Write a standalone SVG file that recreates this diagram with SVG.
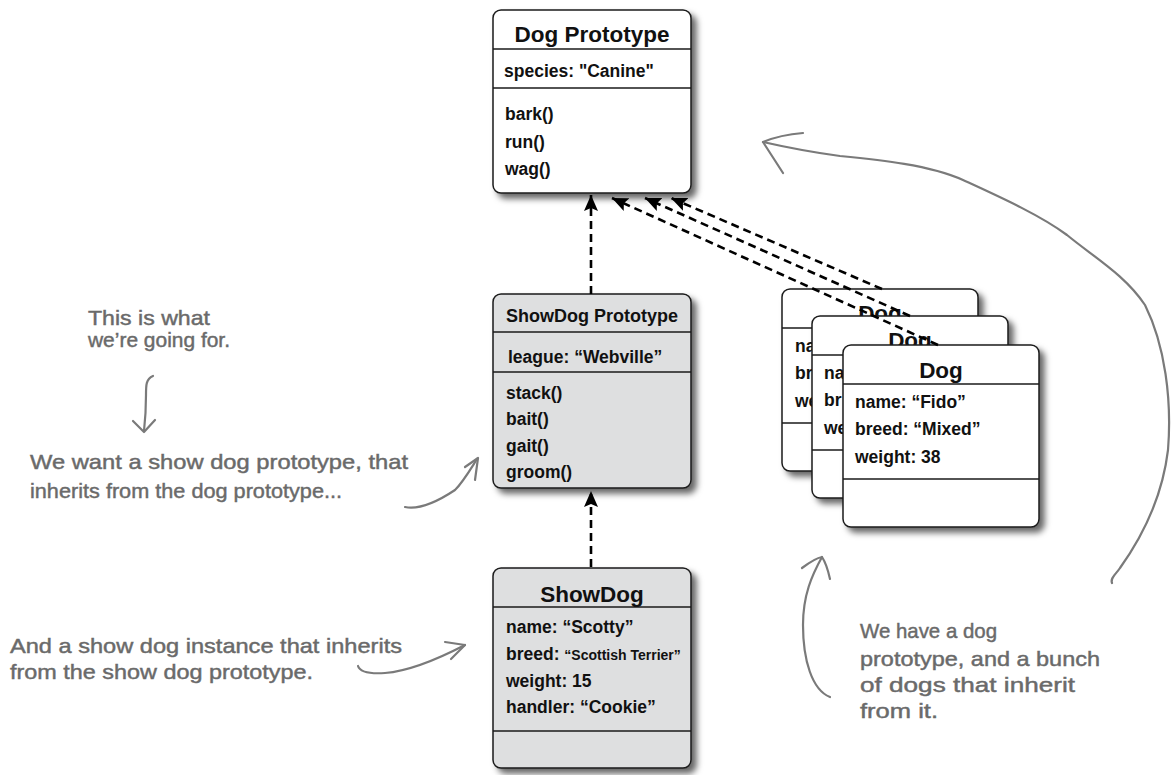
<svg xmlns="http://www.w3.org/2000/svg" width="1172" height="775" viewBox="0 0 1172 775">
<defs>
<filter id="sh" x="-10%" y="-10%" width="130%" height="130%">
<feDropShadow dx="5" dy="5" stdDeviation="3" flood-color="#000" flood-opacity="0.6"/>
</filter>
<marker id="ah" markerUnits="userSpaceOnUse" markerWidth="18" markerHeight="16" refX="16" refY="7" orient="auto">
<path d="M0,0 L16,7 L0,14 L3,7 z" fill="#000" stroke="none"/>
</marker>
</defs>
<style>
.box{fill:#fff;stroke:#1a1a1a;stroke-width:1.5;filter:url(#sh)}
.gbox{fill:#dedfe0;stroke:#1a1a1a;stroke-width:1.5;filter:url(#sh)}
.div{stroke:#1a1a1a;stroke-width:1.3}
.t{font-family:"Liberation Sans",Arial,sans-serif;font-weight:bold;fill:#111}
.title{font-size:22.5px;text-anchor:middle}
.a{font-size:17.5px}
.dash{fill:none;stroke:#000;stroke-width:2.6;stroke-dasharray:8 5;marker-end:url(#ah)}
.hand{fill:none;stroke:#7a7a7a;stroke-width:2.2;stroke-linecap:round;stroke-linejoin:round}
.note{font-family:"Liberation Sans",Arial,sans-serif;font-size:21px;fill:#6a6a6a;stroke:#6a6a6a;stroke-width:0.45}
</style>

<g id="dog-prototype">
<rect class="box" x="493" y="10" width="198" height="183" rx="8"/>
<line class="div" x1="493" y1="49" x2="691" y2="49"/>
<line class="div" x1="493" y1="88" x2="691" y2="88"/>
<text class="t title" x="592" y="42">Dog Prototype</text>
<text class="t a" x="504" y="77">species: "Canine"</text>
<text class="t a" x="505" y="120">bark()</text>
<text class="t a" x="505" y="148">run()</text>
<text class="t a" x="505" y="175">wag()</text>
</g>

<g id="showdog-prototype">
<rect class="gbox" x="493" y="294" width="198" height="194" rx="8"/>
<line class="div" x1="493" y1="332" x2="691" y2="332"/>
<line class="div" x1="493" y1="372" x2="691" y2="372"/>
<text class="t" x="592" y="322" font-size="18" text-anchor="middle">ShowDog Prototype</text>
<text class="t a" x="508" y="363">league: “Webville”</text>
<text class="t a" x="506" y="399">stack()</text>
<text class="t a" x="506" y="425">bait()</text>
<text class="t a" x="506" y="452">gait()</text>
<text class="t a" x="506" y="478">groom()</text>
</g>

<g id="showdog">
<rect class="gbox" x="493" y="568" width="198" height="200" rx="8"/>
<line class="div" x1="493" y1="607" x2="691" y2="607"/>
<line class="div" x1="493" y1="731" x2="691" y2="731"/>
<text class="t title" x="592" y="602">ShowDog</text>
<text class="t a" x="506" y="633">name: “Scotty”</text>
<text class="t a" x="506" y="660">breed: <tspan font-size="14">“Scottish Terrier”</tspan></text>
<text class="t a" x="506" y="687">weight: 15</text>
<text class="t a" x="506" y="713">handler: “Cookie”</text>
</g>

<g id="dog-1">
<rect class="box" x="782" y="289" width="196" height="182" rx="8"/>
<line class="div" x1="782" y1="328" x2="978" y2="328"/>
<line class="div" x1="782" y1="423" x2="978" y2="423"/>
<text class="t title" x="880" y="321">Dog</text>
<text class="t a" x="795" y="352">na</text>
<text class="t a" x="795" y="379">br</text>
<text class="t a" x="795" y="407">we</text>
</g>

<g id="dog-2">
<rect class="box" x="812" y="316" width="196" height="182" rx="8"/>
<line class="div" x1="812" y1="355" x2="1008" y2="355"/>
<line class="div" x1="812" y1="450" x2="1008" y2="450"/>
<text class="t title" x="910" y="348">Dog</text>
<text class="t a" x="824" y="379">na</text>
<text class="t a" x="824" y="406">br</text>
<text class="t a" x="824" y="434">we</text>
</g>

<g id="dog-3">
<rect class="box" x="843" y="345" width="196" height="182" rx="8"/>
<line class="div" x1="843" y1="384" x2="1039" y2="384"/>
<line class="div" x1="843" y1="479" x2="1039" y2="479"/>
<text class="t title" x="941" y="378">Dog</text>
<text class="t a" x="855" y="408">name: “Fido”</text>
<text class="t a" x="855" y="435">breed: “Mixed”</text>
<text class="t a" x="855" y="463">weight: 38</text>
</g>

<g id="connectors">
<path class="dash" d="M591,294 L591,195"/>
<path class="dash" d="M591,567 L591,491"/>
<path class="dash" d="M882,289 L671,198"/>
<path class="dash" d="M910,316 L645,198"/>
<path class="dash" d="M938,345 L612,198"/>
</g>

<g id="annotations">
<path class="hand" d="M1112,583 C1110,578 1116,574 1120,568 C1140,540 1162,500 1168,450 C1172,400 1165,345 1145,305 C1125,275 1095,258 1067,235 C1040,215 1000,197 963,180 C930,165 880,160 840,156 C810,152 785,147 763,142"/>
<path class="hand" d="M803,133 C790,134 775,137 763,142 L783,173"/>
<path class="hand" d="M830,697 C812,690 803,660 803,625 C803,595 812,575 822,557"/>
<path class="hand" d="M802,568 C810,562 816,558 822,557 C826,563 828,570 830,579"/>
<path class="hand" d="M153,376 C146,379 146,385 146,395 C146,410 145,422 144,431"/>
<path class="hand" d="M133,421 L144,432 L155,420"/>
<path class="hand" d="M405,507 C420,510 440,500 455,490 C463,482 470,470 477,459"/>
<path class="hand" d="M465,467 L478,458 L475,480"/>
<path class="hand" d="M358,666 C360,672 370,674 385,673 C410,671 440,658 465,645"/>
<path class="hand" d="M445,642 L465,645 L451,659"/>
<text class="note" x="88" y="325" textLength="122" lengthAdjust="spacingAndGlyphs">This is what</text>
<text class="note" x="88" y="347" textLength="142" lengthAdjust="spacingAndGlyphs">we’re going for.</text>
<text class="note" x="30" y="469" textLength="378" lengthAdjust="spacingAndGlyphs">We want a show dog prototype, that</text>
<text class="note" x="30" y="498" textLength="312" lengthAdjust="spacingAndGlyphs">inherits from the dog prototype...</text>
<text class="note" x="10" y="653" textLength="392" lengthAdjust="spacingAndGlyphs">And a show dog instance that inherits</text>
<text class="note" x="10" y="679" textLength="303" lengthAdjust="spacingAndGlyphs">from the show dog prototype.</text>
<text class="note" x="860" y="638" textLength="137" lengthAdjust="spacingAndGlyphs">We have a dog</text>
<text class="note" x="860" y="666" textLength="240" lengthAdjust="spacingAndGlyphs">prototype, and a bunch</text>
<text class="note" x="860" y="692" textLength="215" lengthAdjust="spacingAndGlyphs">of dogs that inherit</text>
<text class="note" x="860" y="718" textLength="78" lengthAdjust="spacingAndGlyphs">from it.</text>
</g>
</svg>
